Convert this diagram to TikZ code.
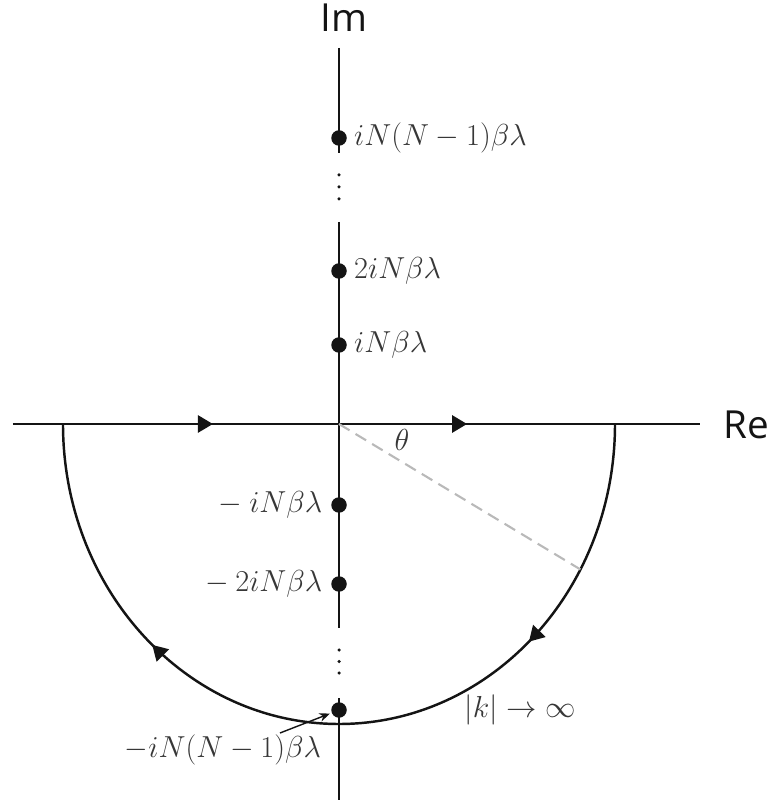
\documentclass[tikz,border=0pt]{standalone}
\usepackage{fontspec}
\newfontfamily\axisfont{Open Sans}
\usepackage{tikz}
\usetikzlibrary{arrows.meta, positioning, calc, decorations.markings}
\definecolor{mydark}{RGB}{20,20,20}
\definecolor{mylabel}{RGB}{55,55,55}
\definecolor{mydash}{RGB}{185,185,185}
\tikzset{
  axisline/.style={line width=1.6pt, color=mydark},
  contour/.style={line width=1.4pt, color=mydark},
  pole/.style={circle, fill=mydark, inner sep=0pt, minimum size=0.31cm},
  elide/.style={circle, fill=mydark, inner sep=0pt, minimum size=0.07cm},
  polelabel/.style={inner sep=1pt, font=\fontsize{16}{19}\selectfont, text=mylabel},
  axislabel/.style={inner sep=0pt, font=\axisfont\fontsize{22}{26}\selectfont, text=mydark},
  flowtips/.style 2 args={decoration={markings,
      mark=at position #1 with {\arrow{Triangle[length=0.3cm, width=0.34cm]}},
      mark=at position #2 with {\arrow{Triangle[length=0.3cm, width=0.34cm]}}},
    postaction={decorate}},
  pointer/.style={-{Stealth[length=6pt, width=5pt]}, line width=0.8pt, color=mydark}
}

\begin{document}
\begin{tikzpicture}
  \useasboundingbox (-6.78,-7.58) rectangle (8.7,8.48);

  % axes
  \coordinate (O) at (0,0);
  \coordinate (reL) at (-6.52,0);
  \coordinate (reR) at (7.22,0);
  \draw[axisline, flowtips={0.291}{0.661}] (reL) -- (reR);
  \draw[axisline] (0,7.52) -- (0,5.42);
  \draw[axisline] (0,4.04) -- (0,-4.08);
  \draw[axisline] (0,-5.48) -- (0,-7.52);
  \node[axislabel] (im) at (0.1,8.12) {Im};
  \node[axislabel] (re) at (8.14,-0.02) {Re};

  % closing contour in the lower half plane
  \coordinate (arcR) at (5.52,0);
  \draw[contour, flowtips={0.265}{0.73}] (arcR) arc[start angle=0, end angle=-180, x radius=5.52, y radius=6];
  \coordinate (rim) at ({5.52*cos(29)},{-6*sin(29)});
  \draw[line width=1.2pt, color=mydash, dash pattern=on 7pt off 4pt] (O) -- (rim);
  \node[polelabel] (theta) at (1.26,-0.32) {$\theta$};
  \node[polelabel] (kinf) at (3.62,-5.72) {$|k|\to\infty$};

  % poles on the imaginary axis
  \node[pole] (p1) at (0,5.72) {};
  \node[pole] (p2) at (0,3.06) {};
  \node[pole] (p3) at (0,1.58) {};
  \node[pole] (m1) at (0,-1.62) {};
  \node[pole] (m2) at (0,-3.2) {};
  \node[pole] (m3) at (0,-5.72) {};
  \node[polelabel, right=0.1cm of p1] (lp1) {$iN(N-1)\beta\lambda$};
  \node[polelabel, right=0.1cm of p2] (lp2) {$2iN\beta\lambda$};
  \node[polelabel, right=0.1cm of p3] (lp3) {$iN\beta\lambda$};
  \node[polelabel, left=0.13cm of m1] (lm1) {${}-iN\beta\lambda$};
  \node[polelabel, left=0.13cm of m2] (lm2) {${}-2iN\beta\lambda$};

  % elided poles
  \foreach \y in {4.98,4.74,4.5,-4.52,-4.75,-4.98}
    \node[elide] at (0,\y) {};

  % label for the last pole
  \node[polelabel, anchor=east] (lm3) at (-0.32,-6.52) {$-iN(N-1)\beta\lambda$};
  \coordinate (ptr) at (-1.18,-6.18);
  \draw[pointer, shorten >=1pt] (ptr) -- (m3);
\end{tikzpicture}
\end{document}
